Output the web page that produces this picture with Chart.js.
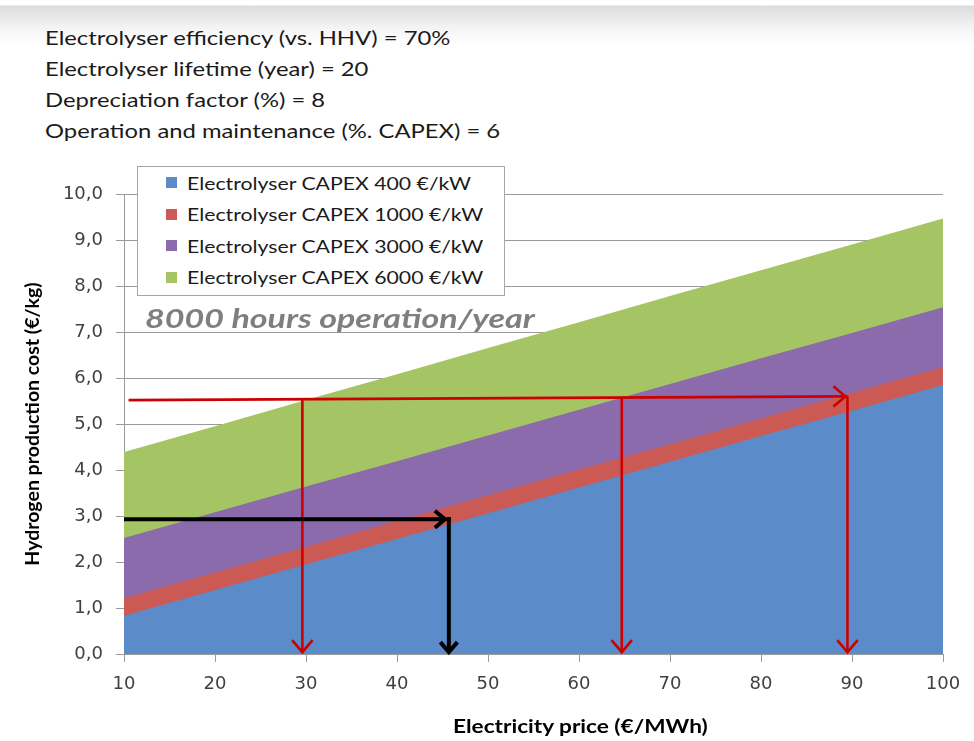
<!DOCTYPE html>
<html>
<head>
<meta charset="utf-8">
<script src="https://cdn.jsdelivr.net/npm/chart.js@4"></script>
<style>
  html, body { margin:0; padding:0; }
  body { width:974px; height:741px; position:relative; overflow:hidden;
         background: linear-gradient(to bottom, #ffffff 0px, #ffffff 5px, #dcdcdc 6px, #f4f4f4 28px, #ffffff 45px); font-family: Lato, "Open Sans", sans-serif; }
  #wrap { position:absolute; left:0; top:0; width:974px; height:741px; }
  #header { position:absolute; left:45px; top:22px; font-size:20px; line-height:31px; color:#1a1a1a; transform:scaleX(1.19); transform-origin:left top; white-space:nowrap; }
  #legend { position:absolute; left:137px; top:166px; width:368px; height:130px; background:#fff; border:1px solid #a6a6a6; box-sizing:border-box; padding-top:0px; }
  .li { height:31.5px; display:flex; align-items:center; font-size:18px; color:#1a1a1a; white-space:nowrap; }
  .sw { width:11px; height:11px; margin-left:28px; margin-right:10px; flex:none; }
  .lt { display:inline-block; transform:scaleX(1.18); transform-origin:left center; }
  #note { position:absolute; left:145px; top:301px; font-size:27px; font-weight:bold; font-style:italic; color:#7f7f7f; transform:scaleX(1.26); transform-origin:left top; white-space:nowrap; }
  #xtitle { position:absolute; left:453px; top:714px; font-size:19px; font-weight:bold; color:#000; transform:scaleX(1.19); transform-origin:left top; white-space:nowrap; }
</style>
</head>
<body>
<div id="header">
  <div>Electrolyser efficiency (vs. HHV) = 70%</div>
  <div>Electrolyser lifetime (year) = 20</div>
  <div>Depreciation factor (%) = 8</div>
  <div>Operation and maintenance (%. CAPEX) = 6</div>
</div>
<div id="wrap"><canvas id="c" width="974" height="741"></canvas></div>
<div id="legend"></div>
<div id="note">8000 hours operation/year</div>
<div id="xtitle">Electricity price (€/MWh)</div>
<script>
// ---- data ----
const prices = [10, 20, 30, 40, 50, 60, 70, 80, 90, 100];
const capex400  = [0.83, 1.39, 1.95, 2.50, 3.06, 3.62, 4.18, 4.74, 5.29, 5.85];
const capex1000 = [1.21, 1.77, 2.33, 2.89, 3.45, 4.01, 4.56, 5.12, 5.68, 6.24];
const capex3000 = [2.52, 3.08, 3.64, 4.19, 4.75, 5.31, 5.87, 6.43, 6.98, 7.54];
const capex6000 = [4.39, 4.95, 5.52, 6.08, 6.65, 7.21, 7.78, 8.34, 8.90, 9.47];
const seriesLabels = [
  'Electrolyser CAPEX 400 €/kW',
  'Electrolyser CAPEX 1000 €/kW',
  'Electrolyser CAPEX 3000 €/kW',
  'Electrolyser CAPEX 6000 €/kW'
];
const xTickValues = [10, 20, 30, 40, 50, 60, 70, 80, 90, 100];
const yTickValues = [0, 1, 2, 3, 4, 5, 6, 7, 8, 9, 10];
// annotation arrows (data units)
const redLineX = [10.5, 89.5];
const redLineY = [5.52, 5.60];
const redDropX = [29.6, 64.7, 89.5];
const redDropTopY = [5.56, 5.58, 5.60];
const blackLineX = [10, 45.7];
const blackLineY = [2.93, 2.93];
const arrowBottomY = 0.04;

// ---- styles ----
const colors = ['#5b8bc9', '#cb5a55', '#8b6bab', '#a5c463'];
const seriesValues = [capex400, capex1000, capex3000, capex6000];

const datasets = seriesValues.map((vals, i) => ({
  label: seriesLabels[i],
  data: prices.map((p, j) => ({ x: p, y: vals[j] })),
  fill: 'origin',
  backgroundColor: colors[i],
  borderColor: colors[i],
  borderWidth: 0,
  pointRadius: 0,
  tension: 0
}));

function arrowHead(ctx, x, y, dir, size) {
  ctx.beginPath();
  if (dir === 'down') {
    ctx.moveTo(x - size * 0.85, y - size);
    ctx.lineTo(x, y);
    ctx.lineTo(x + size * 0.85, y - size);
  } else {
    ctx.moveTo(x - size, y - size * 0.85);
    ctx.lineTo(x, y);
    ctx.lineTo(x - size, y + size * 0.85);
  }
  ctx.stroke();
}

const arrowPlugin = {
  id: 'arrows',
  afterDatasetsDraw(chart) {
    const { ctx, scales: { x, y } } = chart;
    ctx.save();
    ctx.lineCap = 'butt';
    ctx.lineJoin = 'miter';
    // red horizontal
    ctx.strokeStyle = '#cc0000';
    ctx.lineWidth = 2.6;
    const hx0 = x.getPixelForValue(redLineX[0]), hy0 = y.getPixelForValue(redLineY[0]);
    const hx1 = x.getPixelForValue(redLineX[1]), hy1 = y.getPixelForValue(redLineY[1]);
    ctx.beginPath(); ctx.moveTo(hx0, hy0); ctx.lineTo(hx1, hy1); ctx.stroke();
    arrowHead(ctx, hx1 - 2, hy1, 'right', 12);
    // red drops
    redDropX.forEach((v, i) => {
      const px = x.getPixelForValue(v);
      const top = y.getPixelForValue(redDropTopY[i]);
      const bot = y.getPixelForValue(arrowBottomY);
      ctx.beginPath(); ctx.moveTo(px, top); ctx.lineTo(px, bot); ctx.stroke();
      arrowHead(ctx, px, bot, 'down', 12);
    });
    // black
    ctx.strokeStyle = '#000000';
    ctx.lineWidth = 4;
    const bx0 = x.getPixelForValue(blackLineX[0]), by0 = y.getPixelForValue(blackLineY[0]);
    const bx1 = x.getPixelForValue(blackLineX[1]), by1 = y.getPixelForValue(blackLineY[1]);
    ctx.beginPath(); ctx.moveTo(bx0, by0); ctx.lineTo(bx1 + 2, by1); ctx.stroke();
    arrowHead(ctx, bx1 - 4, by1, 'right', 10);
    const bb = y.getPixelForValue(arrowBottomY);
    ctx.beginPath(); ctx.moveTo(bx1, by1 - 2); ctx.lineTo(bx1, bb); ctx.stroke();
    arrowHead(ctx, bx1, bb, 'down', 10);
    ctx.restore();
  }
};

const chart = new Chart(document.getElementById('c'), {
  type: 'line',
  data: { datasets },
  options: {
    responsive: false,
    animation: false,
    layout: { padding: { top: 194, right: 31, left: 0, bottom: 0 } },
    plugins: { legend: { display: false }, tooltip: { enabled: false } },
    scales: {
      x: {
        type: 'linear', min: 10, max: 100,
        afterBuildTicks(s) { s.ticks = xTickValues.map(v => ({ value: v })); },
        afterFit(s) { s.height = 87; },
        grid: { drawOnChartArea: false, drawTicks: true, tickLength: 8, color: '#9a9a9a' },
        border: { color: '#9a9a9a', width: 1 },
        ticks: { font: { family: 'DejaVu Sans', size: 18 }, color: '#404040', padding: 12, maxRotation: 0 }
      },
      y: {
        min: 0, max: 10,
        afterBuildTicks(s) { s.ticks = yTickValues.map(v => ({ value: v })); },
        afterFit(s) { s.width = 124; },
        grid: { drawOnChartArea: true, drawTicks: true, tickLength: 8, color: '#9a9a9a' },
        border: { color: '#9a9a9a', width: 1 },
        ticks: { font: { family: 'DejaVu Sans', size: 18 }, color: '#404040', padding: 13,
                 callback: v => v.toFixed(1).replace('.', ',') },
        title: { display: true, text: 'Hydrogen production cost (€/kg)',
                 font: { family: 'Lato', size: 19.5, weight: 'bold' }, color: '#000', padding: { top: 21 } }
      }
    }
  },
  plugins: [arrowPlugin]
});

// HTML legend built from datasets
const lg = document.getElementById('legend');
chart.data.datasets.forEach(ds => {
  const row = document.createElement('div');
  row.className = 'li';
  const sw = document.createElement('span');
  sw.className = 'sw';
  sw.style.background = ds.backgroundColor;
  const tx = document.createElement('span');
  tx.className = 'lt';
  tx.textContent = ds.label;
  row.appendChild(sw); row.appendChild(tx);
  lg.appendChild(row);
});
</script>
</body>
</html>
